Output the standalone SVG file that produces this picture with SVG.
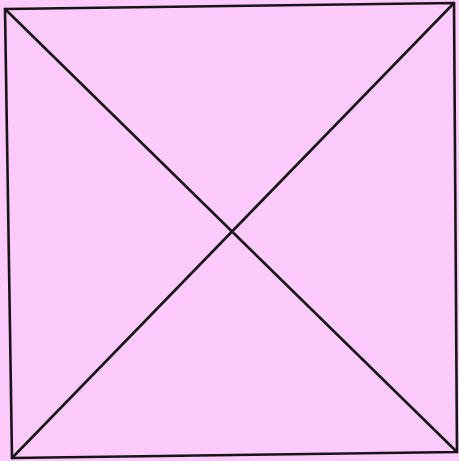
<svg xmlns="http://www.w3.org/2000/svg" width="459" height="461" viewBox="0 0 459 461">
<style>
.edge{stroke:#181518;stroke-width:2.6;fill:none;stroke-linecap:round;stroke-linejoin:round}
</style>
<rect width="459" height="461" fill="#fccbfc"/>
<g id="square">
<polygon class="edge" points="5,9 454,3 457,452 12,458"/>
</g>
<g id="connectors">
<line class="edge" x1="5" y1="9" x2="457" y2="452"/>
<line class="edge" x1="454" y1="3" x2="12" y2="458"/>
</g>
</svg>
